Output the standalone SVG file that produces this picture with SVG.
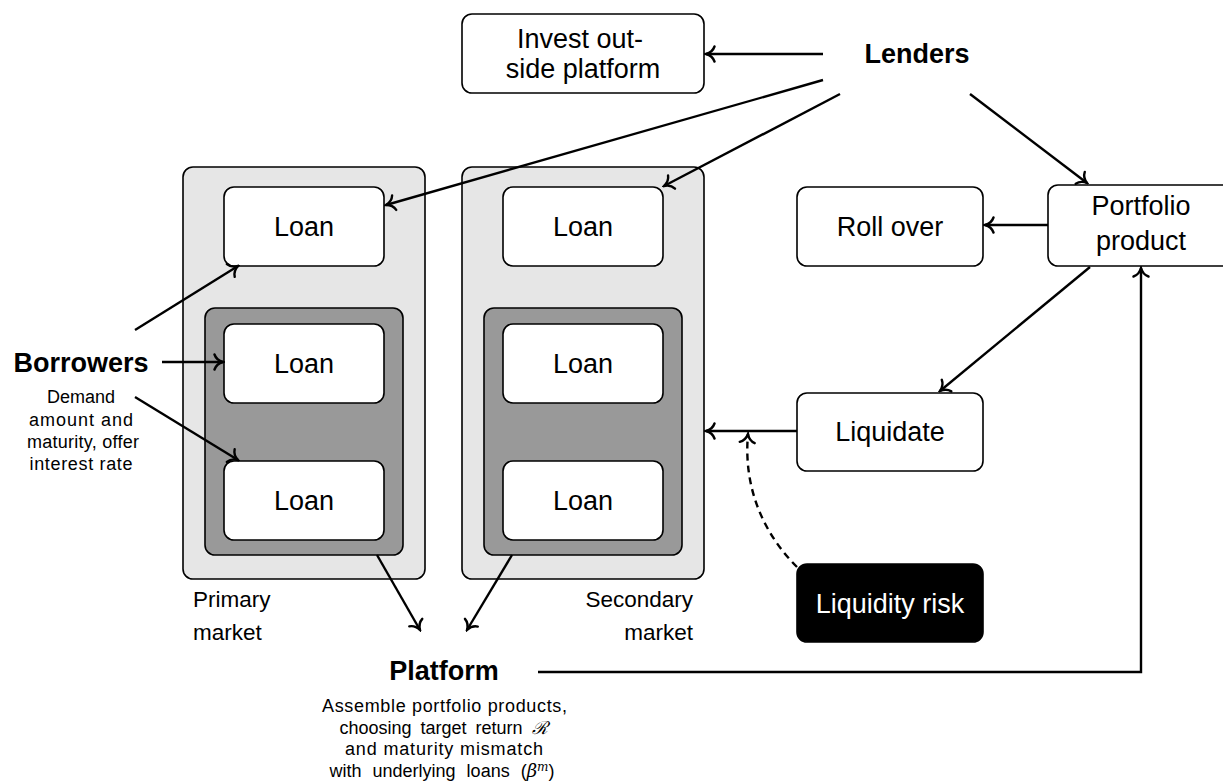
<svg xmlns="http://www.w3.org/2000/svg" width="1223" height="784" viewBox="0 0 1223 784">
<style>
  .box{fill:#fff;stroke:#000;stroke-width:1.6}
  .outer{fill:#e6e6e6;stroke:#000;stroke-width:1.6}
  .inner{fill:#999;stroke:#000;stroke-width:1.6}
  .dark{fill:#000;stroke:#000;stroke-width:1.6}
  .lbl{font-family:"Liberation Sans",Arial,sans-serif;font-size:27px;fill:#000;text-anchor:middle}
  .wlbl{font-family:"Liberation Sans",Arial,sans-serif;font-size:27px;fill:#fff;text-anchor:middle}
  .big{font-family:"Liberation Sans",Arial,sans-serif;font-size:27px;font-weight:bold;fill:#000;text-anchor:middle}
  .mkt{font-family:"Liberation Sans",Arial,sans-serif;font-size:22.5px;fill:#000}
  .small{font-family:"Liberation Sans",Arial,sans-serif;font-size:18px;fill:#000;text-anchor:middle}
  .math{font-family:"DejaVu Serif","Liberation Serif",serif;font-style:italic}
  .edge{fill:none;stroke:#000;stroke-width:2.4;marker-end:url(#arr)}
  .dash{fill:none;stroke:#000;stroke-width:2.4;stroke-dasharray:7 5;marker-end:url(#arr)}
</style>
<defs>
  <marker id="arr" viewBox="-12 -10 14 20" refX="0" refY="0" markerWidth="14" markerHeight="20" orient="auto" markerUnits="userSpaceOnUse">
    <path d="M-8.5,-7.5 C-7,-3 -2.5,-0.7 0,0 C-2.5,0.7 -7,3 -8.5,7.5" fill="none" stroke="#000" stroke-width="2.4" stroke-linecap="round"/>
  </marker>
</defs>

<g id="primary-market">
  <rect class="outer" x="183" y="167" width="242" height="412" rx="10"/>
  <rect class="inner" x="205" y="308" width="198" height="247" rx="10"/>
  <text class="mkt" x="193" y="607">Primary</text>
  <text class="mkt" x="193" y="640">market</text>
</g>
<g id="secondary-market">
  <rect class="outer" x="462" y="167" width="242" height="412" rx="10"/>
  <rect class="inner" x="484" y="308" width="198" height="247" rx="10"/>
  <text class="mkt" x="693" y="607" text-anchor="end">Secondary</text>
  <text class="mkt" x="693" y="640" text-anchor="end">market</text>
</g>

<g id="loan-p1"><rect class="box" x="224" y="187" width="160" height="79" rx="10"/><text class="lbl" x="304" y="236">Loan</text></g>
<g id="loan-p2"><rect class="box" x="224" y="324" width="160" height="79" rx="10"/><text class="lbl" x="304" y="373">Loan</text></g>
<g id="loan-p3"><rect class="box" x="224" y="461" width="160" height="79" rx="10"/><text class="lbl" x="304" y="510">Loan</text></g>
<g id="loan-s1"><rect class="box" x="503" y="187" width="160" height="79" rx="10"/><text class="lbl" x="583" y="236">Loan</text></g>
<g id="loan-s2"><rect class="box" x="503" y="324" width="160" height="79" rx="10"/><text class="lbl" x="583" y="373">Loan</text></g>
<g id="loan-s3"><rect class="box" x="503" y="461" width="160" height="79" rx="10"/><text class="lbl" x="583" y="510">Loan</text></g>

<g id="invest-outside">
  <rect class="box" x="462" y="14" width="242" height="79" rx="10"/>
  <text class="lbl" x="580" y="48">Invest out-</text>
  <text class="lbl" x="583" y="78">side platform</text>
</g>
<g id="lenders"><text class="big" x="917" y="63">Lenders</text></g>
<g id="roll-over"><rect class="box" x="797" y="187" width="186" height="79" rx="10"/><text class="lbl" x="890" y="236">Roll over</text></g>
<g id="portfolio-product">
  <rect class="box" x="1048" y="185" width="190" height="81" rx="10"/>
  <text class="lbl" x="1141" y="215">Portfolio</text>
  <text class="lbl" x="1141" y="250">product</text>
</g>
<g id="liquidate"><rect class="box" x="797" y="393" width="186" height="78" rx="10"/><text class="lbl" x="890" y="441">Liquidate</text></g>
<g id="liquidity-risk"><rect class="dark" x="797" y="564" width="186" height="78" rx="10"/><text class="wlbl" x="890" y="613">Liquidity risk</text></g>

<g id="borrowers">
  <text class="big" x="81" y="372">Borrowers</text>
  <text class="small" x="81" y="403">Demand</text>
  <text class="small" x="81" y="426" textLength="104" lengthAdjust="spacing">amount and</text>
  <text class="small" x="83" y="448" textLength="112" lengthAdjust="spacing">maturity, offer</text>
  <text class="small" x="81" y="470" textLength="103" lengthAdjust="spacing">interest rate</text>
</g>

<g id="platform">
  <text class="big" x="444" y="680">Platform</text>
  <text class="small" x="444.5" y="712" textLength="245" lengthAdjust="spacing">Assemble portfolio products,</text>
  <text class="small" x="443.5" y="734" word-spacing="4">choosing target return <tspan class="math">ℛ</tspan></text>
  <text class="small" x="444" y="755" textLength="198" lengthAdjust="spacing">and maturity mismatch</text>
  <text class="small" x="442" y="777" word-spacing="6">with underlying loans (<tspan class="math">β</tspan><tspan class="math" font-size="12" dy="-6">m</tspan><tspan dy="6">)</tspan></text>
</g>

<g id="connectors">
  <path class="edge" d="M823,54 L706,54"/>
  <path class="edge" d="M823,80 L386,205"/>
  <path class="edge" d="M840,94 L664,186"/>
  <path class="edge" d="M970,94 L1087,183"/>
  <path class="edge" d="M1048,225 L985,225"/>
  <path class="edge" d="M1090,267 L940,391"/>
  <path class="edge" d="M797,431 L706,431"/>
  <path class="dash" d="M797,567 C765,535 743,490 748,434"/>
  <path class="edge" d="M538,672 L1141,672 L1141,268"/>
  <path class="edge" d="M162,362 L223,362"/>
  <path class="edge" d="M135,330 L238,266"/>
  <path class="edge" d="M135,397 L238,460"/>
  <path class="edge" d="M377,555 L420,630"/>
  <path class="edge" d="M512,555 L467,630"/>
</g>
</svg>
